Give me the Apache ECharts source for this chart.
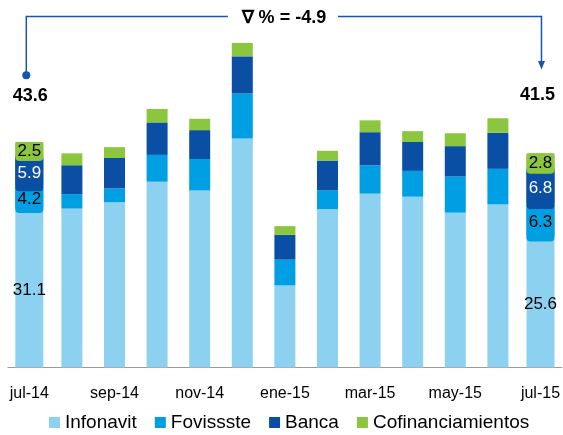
<!DOCTYPE html>
<html>
<head>
<meta charset="utf-8">
<script src="https://cdn.jsdelivr.net/npm/echarts@6/dist/echarts.min.js"></script>
<style>
  html, body { margin: 0; padding: 0; background: #fff; }
  #chart { width: 563px; height: 435px; }
</style>
</head>
<body>
<div id="chart"></div>
<script>
const months = ['jul-14', 'ago-14', 'sep-14', 'oct-14', 'nov-14', 'dic-14', 'ene-15', 'feb-15', 'mar-15', 'abr-15', 'may-15', 'jun-15', 'jul-15']
const infonavit = [31.1, 30.8, 32.0, 36.0, 34.3, 44.4, 15.9, 30.7, 33.7, 33.1, 30.0, 31.6, 25.6]
const fovissste = [4.2, 2.8, 2.7, 5.2, 6.1, 8.7, 5.0, 3.6, 5.5, 5.0, 7.0, 6.9, 6.3]
const banca = [5.9, 5.6, 5.9, 6.3, 5.6, 7.2, 4.8, 5.8, 6.4, 5.6, 5.9, 7.0, 6.8]
const cofinanciamientos = [2.5, 2.3, 2.1, 2.6, 2.2, 2.6, 1.7, 1.9, 2.3, 2.1, 2.5, 2.8, 2.8]
const totalLabels = ['43.6', '41.5']
const changeLabel = '∇ % = -4.9'

const FONT = "'Liberation Sans', Arial, sans-serif"
const lineColor = '#1656b0'

const yMax = 70
const gridTop = 6.3
const gridBottom = 67.5
const pxPerUnit = (435 - gridTop - gridBottom) / yMax

const groups = [
  { name: 'Infonavit', data: infonavit, color: '#8dd1f1', text: '#000', boxed: false },
  { name: 'Fovissste', data: fovissste, color: '#009fe3', text: '#000', boxed: true },
  { name: 'Banca', data: banca, color: '#0a4fa3', text: '#fff', boxed: true },
  { name: 'Cofinanciamientos', data: cofinanciamientos, color: '#8cc63f', text: '#000', boxed: true }
]

const last = months.length - 1
const isEnd = i => i === 0 || i === last

// middle bars and the two end bars sit on two overlapping category axes,
// so the end bars can be wider and carry their own boxed labels
const series = []
groups.forEach(g => {
  series.push({
    name: g.name,
    type: 'bar',
    stack: 'mid',
    xAxisIndex: 0,
    barWidth: 21,
    itemStyle: { color: g.color },
    data: g.data.map((v, i) => (isEnd(i) ? '-' : v))
  })
  series.push({
    name: g.name,
    type: 'bar',
    stack: 'end',
    xAxisIndex: 1,
    barWidth: 28,
    itemStyle: { color: g.color },
    label: {
      show: true,
      position: 'inside',
      offset: [0, 3],
      color: g.text,
      fontFamily: FONT,
      fontSize: 17,
      align: 'center',
      verticalAlign: 'middle',
      formatter: p => Number(p.value).toFixed(1)
    },
    data: g.data.map((v, i) => {
      if (!isEnd(i)) return '-'
      if (!g.boxed) return v
      return {
        value: v,
        label: {
          backgroundColor: g.color,
          borderRadius: 4,
          width: 28,
          height: v * pxPerUnit + 6
        }
      }
    })
  })
})

const chart = echarts.init(document.getElementById('chart'))

chart.setOption({
  animation: false,
  backgroundColor: '#fff',
  grid: { left: 8, right: 0, top: gridTop, bottom: gridBottom },
  legend: {
    data: groups.map(g => g.name),
    left: 49,
    top: 413,
    padding: 0,
    itemWidth: 11,
    itemHeight: 11,
    itemGap: 18,
    icon: 'rect',
    textStyle: { fontFamily: FONT, fontSize: 19, color: '#000' }
  },
  xAxis: [
    {
      type: 'category',
      data: months,
      boundaryGap: true,
      axisLine: { lineStyle: { color: '#9a9a9a', width: 1 } },
      axisTick: { interval: 1, length: 4, lineStyle: { color: '#9a9a9a' } },
      axisLabel: { interval: 1, margin: 18, fontFamily: FONT, fontSize: 16, color: '#000' }
    },
    {
      type: 'category',
      data: months,
      show: false
    }
  ],
  yAxis: { type: 'value', min: 0, max: yMax, show: false },
  series
})

const xFirst = chart.convertToPixel({ xAxisIndex: 0 }, months[0])
const xLast = chart.convertToPixel({ xAxisIndex: 0 }, months[last])
const left = xFirst - 3
const right = xLast + 1
const mid = (left + right) / 2
const topY = 16.5

chart.setOption({
  graphic: [
    {
      type: 'polyline',
      shape: { points: [[left, 75], [left, topY], [mid - 56, topY]] },
      style: { stroke: lineColor, lineWidth: 1.5, fill: null }
    },
    {
      type: 'polyline',
      shape: { points: [[mid + 54, topY], [right, topY], [right, 62]] },
      style: { stroke: lineColor, lineWidth: 1.5, fill: null }
    },
    {
      type: 'polygon',
      shape: { points: [[right - 3.5, 61], [right + 3.5, 61], [right, 69.5]] },
      style: { fill: lineColor }
    },
    {
      type: 'circle',
      shape: { cx: left, cy: 75.3, r: 4 },
      style: { fill: lineColor }
    },
    {
      type: 'text',
      x: mid,
      y: 18,
      style: { text: changeLabel, fill: '#000', font: 'bold 18px ' + FONT, align: 'center', verticalAlign: 'middle' }
    },
    {
      type: 'text',
      x: xFirst + 1,
      y: 96,
      style: { text: totalLabels[0], fill: '#000', font: 'bold 18px ' + FONT, align: 'center', verticalAlign: 'middle' }
    },
    {
      type: 'text',
      x: xLast - 3,
      y: 95,
      style: { text: totalLabels[1], fill: '#000', font: 'bold 18px ' + FONT, align: 'center', verticalAlign: 'middle' }
    }
  ]
})
</script>
</body>
</html>
